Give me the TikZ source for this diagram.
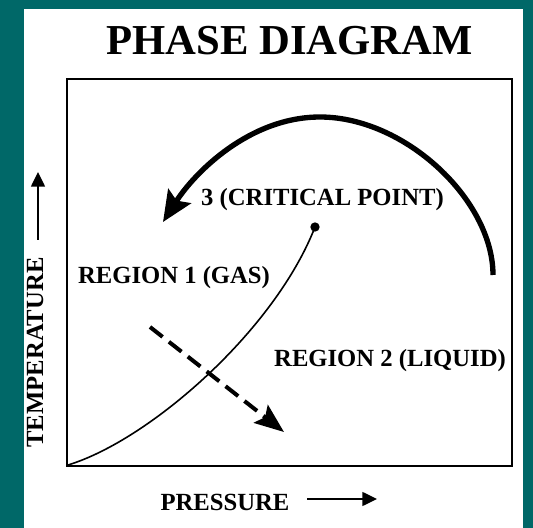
\documentclass[tikz,border=0pt]{standalone}
\usepackage{fontspec}
\setmainfont{Liberation Serif}
\usepackage{tikz}
\usetikzlibrary{arrows.meta,positioning}
\definecolor{slideteal}{RGB}{0,104,104}

\begin{document}
\begin{tikzpicture}[x=0.75pt, y=-0.75pt,
    heading/.style={font=\fontsize{32}{38}\selectfont\bfseries, inner sep=0pt, anchor=base},
    caption/.style={font=\fontsize{18.5}{22}\selectfont\bfseries, inner sep=0pt, anchor=base},
    axisline/.style={draw, line width=1.1pt, -{Triangle[length=11pt, width=10.5pt]}},
    bigarrow/.style={draw, line width=4pt, -{Stealth[length=23pt, width=20pt, inset=4pt]}},
    dasharrow/.style={draw, line width=3pt, dash pattern=on 12pt off 6pt, -{Stealth[length=22pt, width=17pt, inset=4pt]}},
    critdot/.style={circle, fill=black, inner sep=0pt, minimum size=7pt}]

    \useasboundingbox (0,0) rectangle (533,528);
    \fill[slideteal] (0,0) rectangle (533,528);
    \fill[white] (24,9) rectangle (523,528);

    % frame of the chart
    \draw[line width=1.5pt] (67,79) rectangle (512,466);
    \coordinate (origin) at (68,465);

    % texts
    \node[heading] (title) at (289.5,55) {PHASE DIAGRAM};
    \node[caption] (critlabel) at (322.5,205) {3 (CRITICAL POINT)};
    \node[caption] (gas) at (174,283) {REGION 1 (GAS)};
    \node[caption] (liquid) at (390,367) {REGION 2 (LIQUID)};
    \node[caption] (pressure) at (225,510) {PRESSURE};
    \node[caption, rotate=90] (temperature) at (43,352.5) {TEMPERATURE};

    % axis arrows
    \coordinate (tempstart) at (38,240);
    \coordinate (temptip) at (38,172);
    \coordinate (presstart) at (307,499);
    \coordinate (prestip) at (377,499);
    \path[axisline] (tempstart) -- (temptip);
    \path[axisline] (presstart) -- (prestip);

    % boiling curve up to the critical point
    \node[critdot] (crit) at (315,227) {};
    \draw[line width=1.2pt] (origin) .. controls (150,440) and (275,330) .. (crit.center);

    % dashed arrow across the curve
    \coordinate (dashstart) at (150,327);
    \coordinate (dashtip) at (284,432);
    \path[dasharrow] (dashstart) -- (dashtip);

    % big curved arrow
    \coordinate (arcstart) at (493,275);
    \coordinate (arcpeak) at (320,117);
    \coordinate (arctip) at (163,222);
    \path[bigarrow] (arcstart) .. controls (493,200) and (405,117) .. (arcpeak)
        .. controls (250,117) and (195,172) .. (arctip);
\end{tikzpicture}
\end{document}
